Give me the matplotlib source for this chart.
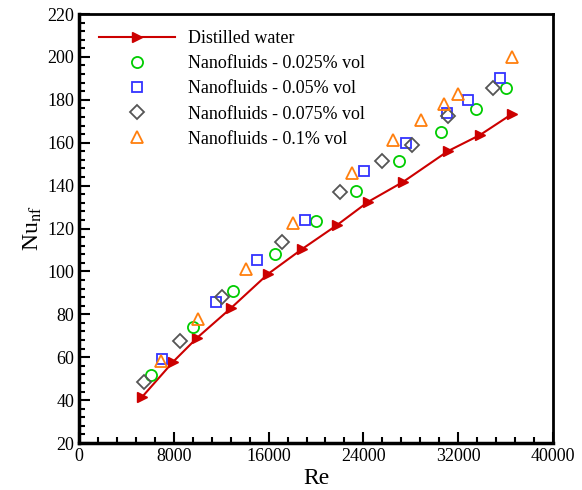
import matplotlib
matplotlib.use('Agg')
import matplotlib.pyplot as plt
from matplotlib.ticker import MultipleLocator

plt.rcParams['font.family'] = ['Liberation Serif', 'DejaVu Serif']
plt.rcParams['mathtext.fontset'] = 'stix'

# Distilled water
re_water = [5316, 7932, 9958, 12827, 15949, 18819, 21772, 24388, 27342, 31139, 33840, 36540]
nu_water = [41.4, 57.8, 69.0, 82.9, 98.8, 110.4, 121.6, 132.4, 141.7, 156.1, 163.6, 173.4]

# Nanofluids - 0.025% vol
re_025 = [6076, 9620, 12996, 16540, 20000, 23376, 27004, 30549, 33502, 36034]
nu_025 = [51.7, 74.1, 90.9, 108.1, 123.5, 137.5, 151.5, 165.0, 175.7, 185.5]

# Nanofluids - 0.05% vol
re_05 = [7004, 11561, 15021, 19072, 24051, 27595, 31055, 32827, 35527]
nu_05 = [59.2, 85.7, 105.3, 124.0, 146.8, 159.9, 173.8, 179.9, 190.2]

# Nanofluids - 0.075% vol
re_075 = [5485, 8523, 12068, 17131, 22025, 25570, 28101, 31139, 34937]
nu_075 = [48.4, 67.6, 88.1, 113.7, 137.0, 151.5, 158.9, 172.4, 185.5]

# Nanofluids - 0.1% vol
re_1 = [6920, 10042, 14093, 18059, 23038, 26498, 28861, 30802, 31983, 36540]
nu_1 = [58.2, 77.8, 101.1, 122.6, 145.9, 161.3, 170.6, 178.0, 182.7, 200.0]

fig = plt.figure(figsize=(5.82, 4.9), dpi=100)
ax = fig.add_axes([0.1357, 0.0959, 0.8145, 0.8755])

ax.plot(re_water, nu_water, color='#cc0000', lw=1.5, marker='>', ms=7,
        mfc='#cc0000', mec='#cc0000', label='Distilled water')
ax.plot(re_025, nu_025, ls='none', marker='o', ms=8, mfc='none', mec='#00cc00',
        mew=1.3, label='Nanofluids - 0.025% vol')
ax.plot(re_05, nu_05, ls='none', marker='s', ms=7.5, mfc='none', mec='#3333ff',
        mew=1.3, label='Nanofluids - 0.05% vol')
ax.plot(re_075, nu_075, ls='none', marker='D', ms=7, mfc='none', mec='#555555',
        mew=1.3, label='Nanofluids - 0.075% vol')
ax.plot(re_1, nu_1, ls='none', marker='^', ms=9, mfc='none', mec='#ff7f0e',
        mew=1.3, label='Nanofluids - 0.1% vol')

ax.set_xlim(0, 40000)
ax.set_ylim(20, 220)
ax.xaxis.set_major_locator(MultipleLocator(8000))
ax.xaxis.set_minor_locator(MultipleLocator(1600))
ax.yaxis.set_major_locator(MultipleLocator(20))
ax.yaxis.set_minor_locator(MultipleLocator(4))
ax.tick_params(which='both', direction='in', top=False, right=False,
               labelsize=13, width=1.5)
ax.tick_params(which='major', length=8)
ax.tick_params(which='minor', length=4)

for side in ['left', 'bottom']:
    ax.spines[side].set_linewidth(2.5)
for side in ['top', 'right']:
    ax.spines[side].set_linewidth(2)

ax.set_xlabel('Re', fontsize=17, labelpad=2)
ax.set_ylabel(r'Nu$_{\mathrm{nf}}$', fontsize=17, labelpad=2)

ax.legend(loc='upper left', bbox_to_anchor=(0.012, 0.996), frameon=False,
          fontsize=13, numpoints=1, handlelength=4.2, handletextpad=0.75,
          labelspacing=0.45, borderaxespad=0.4)

fig.savefig('out.png', dpi=100)
